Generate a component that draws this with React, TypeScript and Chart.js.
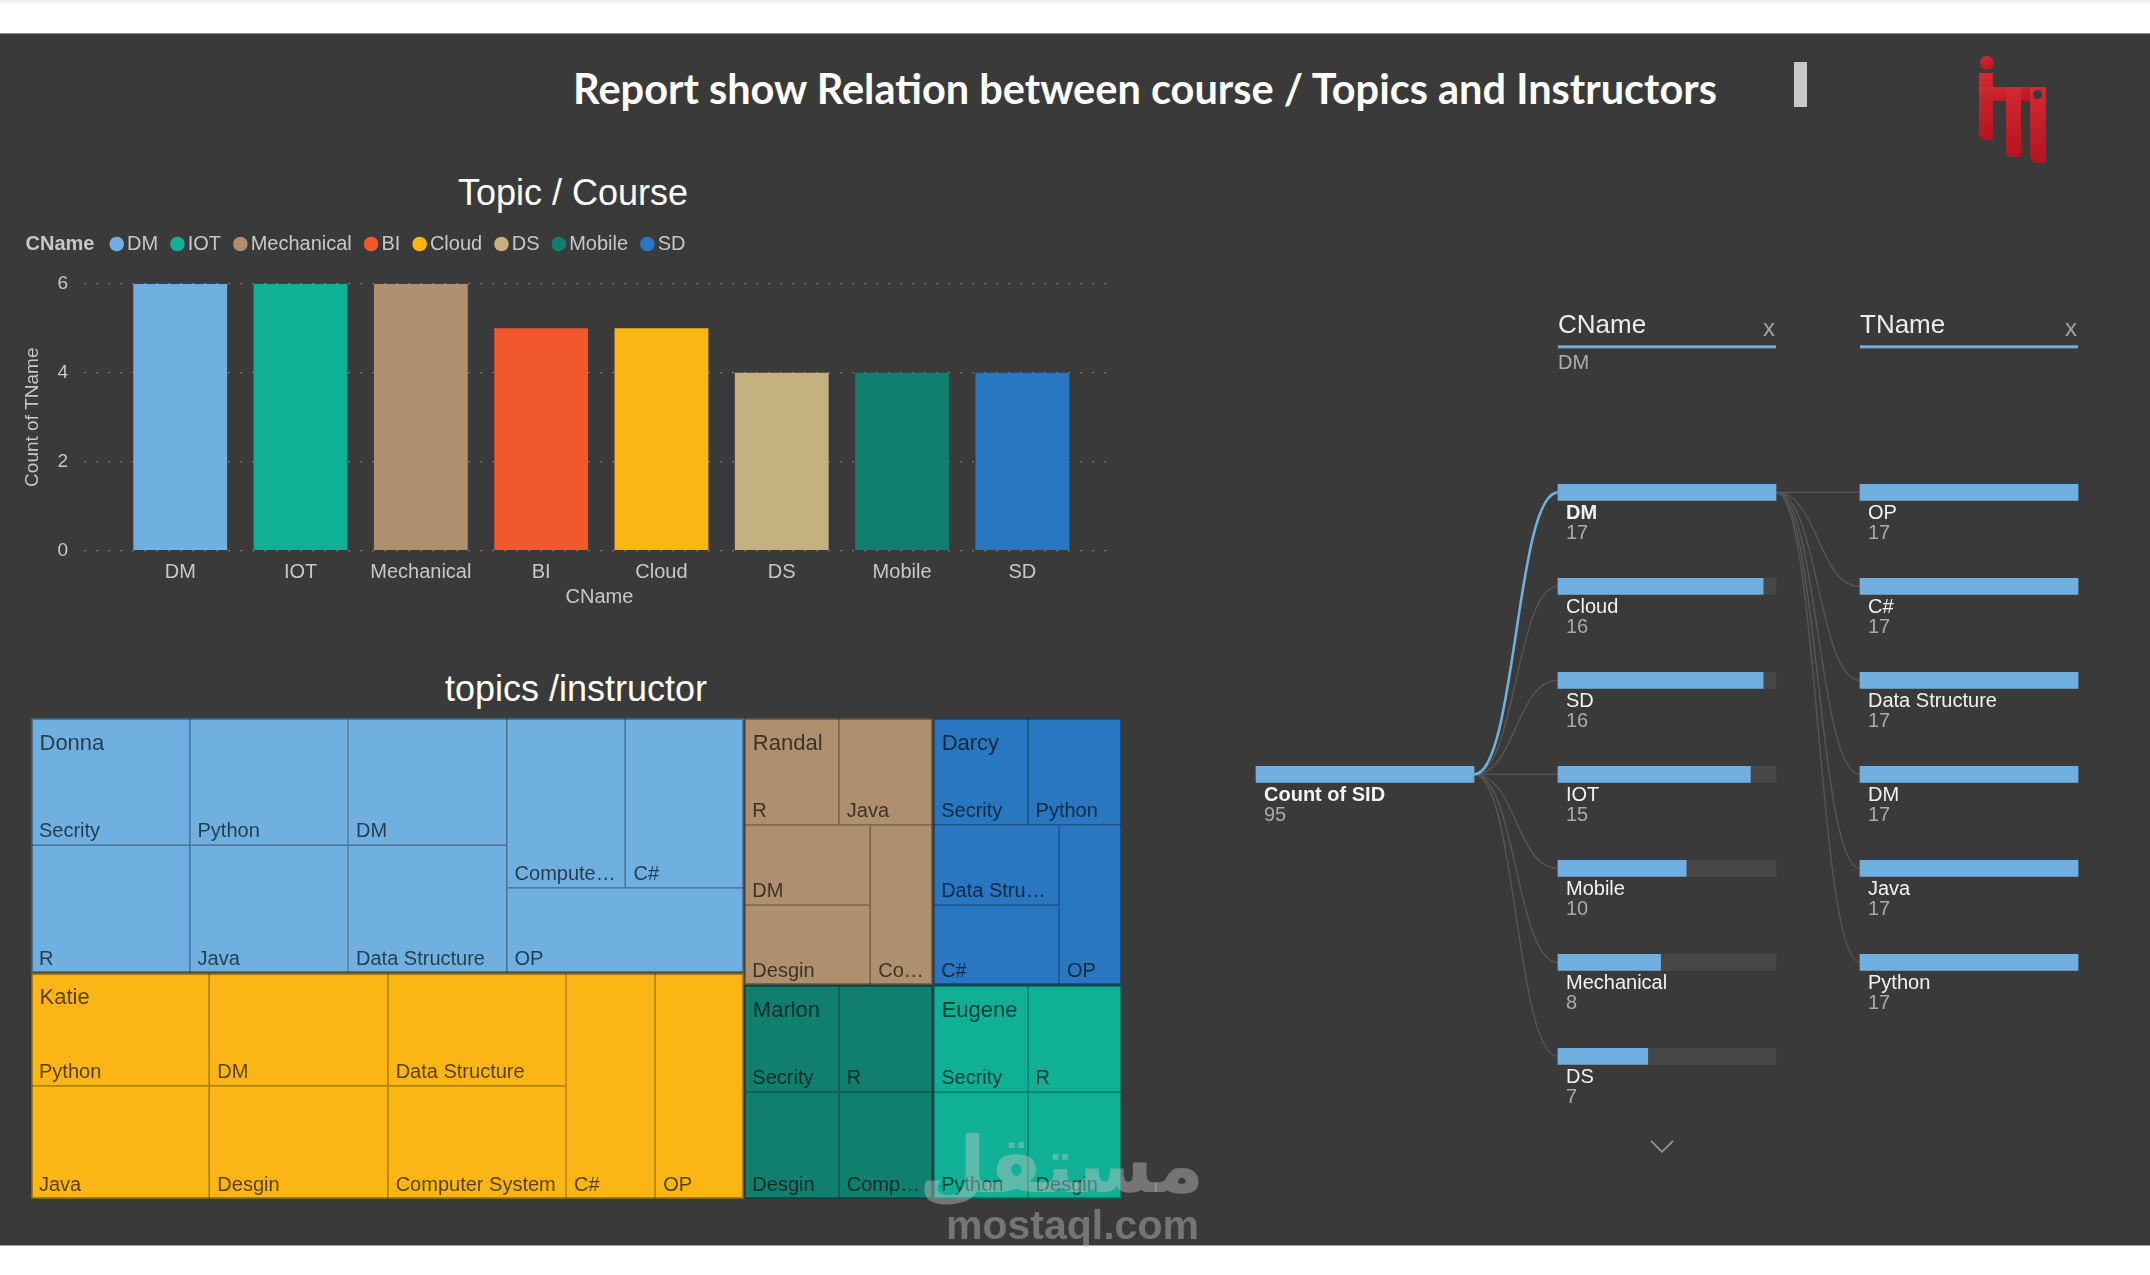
import React, { useEffect, useRef } from "react";
import { Chart, registerables } from "chart.js";

Chart.register(...registerables);

const FONT = '"Liberation Sans", Arial, sans-serif';
Chart.defaults.font.family = FONT;

// ---------------- data ----------------
// Bar chart: Topic / Course
const courseNames = ["DM", "IOT", "Mechanical", "BI", "Cloud", "DS", "Mobile", "SD"];
const topicCountByCourse = [6, 6, 6, 5, 5, 4, 4, 4];
const yAxisMax = 6;
const yAxisStep = 2;
const legendTitle = "CName";
const xAxisTitle = "CName";
const yAxisTitle = "Count of TName";

// Treemap: topics / instructor
const instructors = ["Donna", "Katie", "Randal", "Darcy", "Marlon", "Eugene"];
const instructorTopics = [
  ["Secrity", "R", "Python", "Java", "DM", "Data Structure", "Computer System", "C#", "OP"],
  ["Python", "Java", "DM", "Desgin", "Data Structure", "Computer System", "C#", "OP"],
  ["R", "Java", "DM", "Desgin", "Computer System"],
  ["Secrity", "Python", "Data Structure", "C#", "OP"],
  ["Secrity", "R", "Desgin", "Computer System"],
  ["Secrity", "R", "Python", "Desgin"],
];
const instructorTopicCounts = [
  [2, 2, 2, 2, 2, 2, 2, 2, 2],
  [2, 2, 2, 2, 2, 2, 2, 2],
  [1, 1, 1, 1, 1],
  [1, 1, 1, 1, 1],
  [1, 1, 1, 1],
  [1, 1, 1, 1],
];

// Decomposition tree
const rootLabel = "Count of SID";
const rootTotal = 95;
const levelFields = ["CName", "TName"];
const cnameLabels = ["DM", "Cloud", "SD", "IOT", "Mobile", "Mechanical", "DS"];
const cnameCounts = [17, 16, 16, 15, 10, 8, 7];
const selectedCName = "DM";
const tnameLabels = ["OP", "C#", "Data Structure", "DM", "Java", "Python"];
const tnameCounts = [17, 17, 17, 17, 17, 17];

// ---------------- styles ----------------
const BG = "#3a3a3a";
const courseColors = ["#6FB0E0", "#10B097", "#AE8F6E", "#F1582B", "#FBB616", "#C5B17F", "#107F6D", "#2A77C1"];
const instructorColors = ["#6FB0E0", "#FBB616", "#AE8F6E", "#2A77C1", "#107F6D", "#10B097"];
const LABEL = "#c8c8c8";
const BLUE = "#6FB0E0";
const TRACK = "#474747";

// ---------------- treemap layout (squarified, golden ratio) ----------------
type Rect = { x0: number; y0: number; x1: number; y1: number };
function squarify(values: number[], rect: Rect): Rect[] {
  const ratio = (1 + Math.sqrt(5)) / 2;
  const out: Rect[] = new Array(values.length);
  let { x0, y0, x1, y1 } = rect;
  let value = values.reduce((a, b) => a + b, 0);
  let i0 = 0;
  let i1 = 0;
  const n = values.length;
  while (i0 < n) {
    const dx = x1 - x0;
    const dy = y1 - y0;
    let sumValue = values[i1++];
    let minValue = sumValue;
    let maxValue = sumValue;
    const alpha = Math.max(dy / dx, dx / dy) / (value * ratio);
    let beta = sumValue * sumValue * alpha;
    let minRatio = Math.max(maxValue / beta, beta / minValue);
    for (; i1 < n; ++i1) {
      const nv = values[i1];
      sumValue += nv;
      if (nv < minValue) minValue = nv;
      if (nv > maxValue) maxValue = nv;
      beta = sumValue * sumValue * alpha;
      const newRatio = Math.max(maxValue / beta, beta / minValue);
      if (newRatio > minRatio) {
        sumValue -= nv;
        break;
      }
      minRatio = newRatio;
    }
    if (dx < dy) {
      const yy = y0 + (dy * sumValue) / value;
      let x = x0;
      const k = dx / sumValue;
      for (let i = i0; i < i1; i++) {
        const w = values[i] * k;
        out[i] = { x0: x, y0, x1: x + w, y1: yy };
        x += w;
      }
      y0 = yy;
    } else {
      const xx = x0 + (dx * sumValue) / value;
      let y = y0;
      const k = dy / sumValue;
      for (let i = i0; i < i1; i++) {
        const h = values[i] * k;
        out[i] = { x0, y0: y, x1: xx, y1: y + h };
        y += h;
      }
      x0 = xx;
    }
    value -= sumValue;
    i0 = i1;
  }
  return out;
}

function fitText(ctx: CanvasRenderingContext2D, text: string, maxW: number) {
  if (ctx.measureText(text).width <= maxW) return text;
  let s = text;
  while (s.length > 0 && ctx.measureText(s.trimEnd() + "…").width > maxW) s = s.slice(0, -1);
  return s.trimEnd() + "…";
}

// ---------------- bar chart ----------------
function BarChart() {
  const ref = useRef<HTMLCanvasElement>(null);
  useEffect(() => {
    const legendPlugin = {
      id: "inlineLegend",
      afterDraw(chart: any) {
        const ctx = chart.ctx as CanvasRenderingContext2D;
        const y = 94;
        let x = 25.5;
        ctx.save();
        ctx.textBaseline = "middle";
        ctx.textAlign = "left";
        ctx.font = `bold 20px ${FONT}`;
        ctx.fillStyle = LABEL;
        ctx.fillText(legendTitle, x, y);
        x += ctx.measureText(legendTitle).width + 15;
        ctx.font = `20px ${FONT}`;
        (chart.data.labels as string[]).forEach((lab, i) => {
          ctx.fillStyle = courseColors[i];
          ctx.beginPath();
          ctx.arc(x + 7.3, y, 7.3, 0, Math.PI * 2);
          ctx.fill();
          x += 14.6 + 3;
          ctx.fillStyle = LABEL;
          ctx.fillText(lab, x, y);
          x += ctx.measureText(lab).width + 12;
        });
        ctx.restore();
      },
    };
    const chart = new Chart(ref.current as HTMLCanvasElement, {
      type: "bar",
      data: {
        labels: courseNames,
        datasets: [
          {
            label: yAxisTitle,
            data: courseNames.map((_, i) => ({ x: i, y: topicCountByCourse[i] })) as any,
            backgroundColor: courseColors,
            borderWidth: 0,
            barPercentage: 0.78,
            categoryPercentage: 1,
          },
        ],
      },
      options: {
        responsive: false,
        animation: false,
        events: [],
        layout: { padding: { top: 133.7, right: 35, left: 0, bottom: 0 } },
        plugins: { legend: { display: false }, tooltip: { enabled: false }, title: { display: false } },
        scales: {
          x: {
            type: "linear",
            offset: false,
            min: -0.8,
            max: courseNames.length - 0.23,
            grid: { display: false, offset: false },
            border: { display: false },
            ticks: {
              stepSize: 1,
              includeBounds: false,
              autoSkip: false,
              maxRotation: 0,
              padding: 2,
              color: LABEL,
              font: { size: 20 },
              callback: (v: any) => (Number.isInteger(v) && courseNames[v] ? courseNames[v] : ""),
            },
            title: { display: true, text: xAxisTitle, color: LABEL, font: { size: 20 }, padding: { top: 0, bottom: 11 } },
            afterFit: (s: any) => {
              s.height = 69.3;
            },
          },
          y: {
            min: 0,
            max: yAxisMax,
            grid: { color: "#777777", drawTicks: false, lineWidth: 1.2 },
            border: { display: false, dash: [2, 10] },
            ticks: { stepSize: yAxisStep, padding: 16, color: LABEL, font: { size: 19 } },
            title: { display: true, text: yAxisTitle, color: LABEL, font: { size: 19 }, padding: { top: 21.6, bottom: 0 } },
            afterFit: (s: any) => {
              s.width = 84;
            },
          },
        },
      } as any,
      plugins: [legendPlugin],
    });
    return () => chart.destroy();
  }, []);
  return (
    <div style={{ position: "absolute", left: 0, top: 150, width: 1150, height: 470 }}>
      <canvas ref={ref} width={1150} height={470} />
    </div>
  );
}

// ---------------- treemap ----------------
const TM_W = 1091;
const TM_H = 481;
function Treemap() {
  const ref = useRef<HTMLCanvasElement>(null);
  useEffect(() => {
    const treemapPlugin = {
      id: "treemapCells",
      afterDatasetsDraw(chart: any) {
        const ctx = chart.ctx as CanvasRenderingContext2D;
        const xs = chart.scales.x;
        const ys = chart.scales.y;
        const toPx = (r: Rect) => ({
          l: xs.getPixelForValue(r.x0),
          r: xs.getPixelForValue(r.x1),
          t: ys.getPixelForValue(r.y0),
          b: ys.getPixelForValue(r.y1),
        });
        const totals = instructorTopicCounts.map((a) => a.reduce((s, v) => s + v, 0));
        const groups = squarify(totals, { x0: xs.min, y0: ys.min, x1: xs.max, y1: ys.max });
        const cellsByGroup = groups.map((g, gi) => squarify(instructorTopicCounts[gi], g));
        ctx.save();
        cellsByGroup.forEach((cells, gi) => {
          cells.forEach((c) => {
            const p = toPx(c);
            ctx.fillStyle = instructorColors[gi];
            ctx.fillRect(p.l, p.t, p.r - p.l, p.b - p.t);
          });
        });
        ctx.strokeStyle = "rgba(0,0,0,0.2)";
        ctx.lineWidth = 1;
        cellsByGroup.forEach((cells) => {
          cells.forEach((c) => {
            const p = toPx(c);
            const l = Math.round(p.l) + 0.5;
            const t = Math.round(p.t) + 0.5;
            const r = Math.round(p.r) - 0.5;
            const b = Math.round(p.b) - 0.5;
            ctx.strokeRect(l, t, r - l, b - t);
          });
        });
        ctx.strokeStyle = "rgba(0,0,0,0.32)";
        ctx.lineWidth = 2;
        groups.forEach((g) => {
          const p = toPx(g);
          ctx.strokeRect(Math.round(p.l) + 1, Math.round(p.t) + 1, Math.round(p.r - p.l) - 2, Math.round(p.b - p.t) - 2);
        });
        ctx.fillStyle = "rgba(0,0,0,0.66)";
        ctx.textBaseline = "alphabetic";
        ctx.textAlign = "left";
        cellsByGroup.forEach((cells, gi) => {
          ctx.font = `20px ${FONT}`;
          cells.forEach((c, ci) => {
            const p = toPx(c);
            const txt = fitText(ctx, instructorTopics[gi][ci], p.r - p.l - 16);
            ctx.fillText(txt, p.l + 8, p.b - 8);
          });
          const gp = toPx(groups[gi]);
          ctx.font = `22px ${FONT}`;
          ctx.fillText(fitText(ctx, instructors[gi], gp.r - gp.l - 16), gp.l + 8.5, gp.t + 31.5);
        });
        ctx.restore();
      },
    };
    const chart = new Chart(ref.current as HTMLCanvasElement, {
      type: "scatter",
      data: { datasets: [{ data: [] }] },
      options: {
        responsive: false,
        animation: false,
        events: [],
        layout: { padding: 0 },
        plugins: { legend: { display: false }, tooltip: { enabled: false } },
        scales: {
          x: { type: "linear", display: false, offset: false, min: 0, max: TM_W },
          y: { type: "linear", display: false, offset: false, min: 0, max: TM_H, reverse: true },
        },
      } as any,
      plugins: [treemapPlugin],
    });
    return () => chart.destroy();
  }, []);
  return (
    <div style={{ position: "absolute", left: 31, top: 718, width: TM_W, height: TM_H }}>
      <canvas ref={ref} width={TM_W} height={TM_H} />
    </div>
  );
}

// ---------------- decomposition tree ----------------
const DW = 880;
const DH = 880;
const COLS = [
  [16, 234],
  [318, 536],
  [620, 838],
];
const ROW0 = 192.4;
const ROW_GAP = 94;

function curve(ctx: CanvasRenderingContext2D, x0: number, y0: number, x1: number, y1: number, color: string, w: number) {
  const mx = (x0 + x1) / 2;
  ctx.beginPath();
  ctx.moveTo(x0, y0);
  ctx.bezierCurveTo(mx, y0, mx, y1, x1, y1);
  ctx.strokeStyle = color;
  ctx.lineWidth = w;
  ctx.stroke();
}

function DecompTree() {
  const ref = useRef<HTMLCanvasElement>(null);
  useEffect(() => {
    const cMax = Math.max(...cnameCounts);
    const tMax = Math.max(...tnameCounts);
    const rootRow = (cnameLabels.length - 1) / 2;
    const selIdx = cnameLabels.indexOf(selectedCName);
    const colScale = (c: number[], vmax: number) => ({
      type: "linear",
      display: false,
      offset: false,
      min: (-c[0] / (c[1] - c[0])) * vmax,
      max: ((DW - c[0]) / (c[1] - c[0])) * vmax,
    });
    const decompPlugin = {
      id: "decomp",
      beforeDatasetsDraw(chart: any) {
        const ctx = chart.ctx as CanvasRenderingContext2D;
        const { x0, x1, x2, y } = chart.scales;
        ctx.save();
        const sx = x0.getPixelForValue(rootTotal);
        const sy = y.getPixelForValue(rootRow);
        const tx = x1.getPixelForValue(0);
        cnameLabels.forEach((_, i) => {
          if (i !== selIdx) curve(ctx, sx, sy, tx, y.getPixelForValue(i), "#575757", 1.4);
        });
        curve(ctx, sx, sy, tx, y.getPixelForValue(selIdx), BLUE, 2.6);
        const px = x1.getPixelForValue(cnameCounts[selIdx]);
        const py = y.getPixelForValue(selIdx);
        const qx = x2.getPixelForValue(0);
        tnameLabels.forEach((_, j) => curve(ctx, px, py, qx, y.getPixelForValue(selIdx + j), "#575757", 1.4));
        ctx.restore();
      },
      afterDatasetsDraw(chart: any) {
        const ctx = chart.ctx as CanvasRenderingContext2D;
        const { x0, x1, x2, y } = chart.scales;
        ctx.save();
        ctx.textAlign = "left";
        ctx.textBaseline = "middle";
        const drawNode = (x: number, cy: number, name: string, val: number, bold: boolean) => {
          ctx.font = `${bold ? "bold " : ""}20px ${FONT}`;
          ctx.fillStyle = "#f2f2f2";
          ctx.fillText(name, x + 8, cy + 21.5);
          ctx.font = `20px ${FONT}`;
          ctx.fillStyle = "#ababab";
          ctx.fillText(String(val), x + 8, cy + 41.5);
        };
        drawNode(x0.getPixelForValue(0), y.getPixelForValue(rootRow), rootLabel, rootTotal, true);
        cnameLabels.forEach((lab, i) =>
          drawNode(x1.getPixelForValue(0), y.getPixelForValue(i), lab, cnameCounts[i], i === selIdx)
        );
        tnameLabels.forEach((lab, j) =>
          drawNode(x2.getPixelForValue(0), y.getPixelForValue(selIdx + j), lab, tnameCounts[j], false)
        );
        const heads = [
          { s: x1, vmax: cMax, sub: selectedCName },
          { s: x2, vmax: tMax, sub: "" },
        ];
        heads.forEach((h, k) => {
          const l = h.s.getPixelForValue(0);
          const r = h.s.getPixelForValue(h.vmax);
          ctx.font = `26px ${FONT}`;
          ctx.fillStyle = "#ececec";
          ctx.textAlign = "left";
          ctx.fillText(levelFields[k], l, 26);
          ctx.fillStyle = BLUE;
          ctx.fillRect(l, 45.3, r - l, 3);
          ctx.font = `24px ${FONT}`;
          ctx.fillStyle = "#a0a0a0";
          ctx.textAlign = "center";
          ctx.fillText("x", r - 7, 29);
          if (h.sub) {
            ctx.textAlign = "left";
            ctx.font = `20px ${FONT}`;
            ctx.fillStyle = "#adadad";
            ctx.fillText(h.sub, l, 63);
          }
        });
        const cx = (x1.getPixelForValue(0) + x1.getPixelForValue(cMax)) / 2 - 5;
        const cy = y.getPixelForValue(cnameLabels.length - 1) + 90;
        ctx.beginPath();
        ctx.moveTo(cx - 11, cy - 5.5);
        ctx.lineTo(cx, cy + 5.5);
        ctx.lineTo(cx + 11, cy - 5.5);
        ctx.strokeStyle = "#9a9a9a";
        ctx.lineWidth = 1.6;
        ctx.stroke();
        ctx.restore();
      },
    };
    const barCommon = { yAxisID: "y", barThickness: 16, grouped: false, borderWidth: 0 };
    const chart = new Chart(ref.current as HTMLCanvasElement, {
      type: "bar",
      data: {
        datasets: [
          { ...barCommon, xAxisID: "x0", order: 1, backgroundColor: BLUE, data: [{ x: rootTotal, y: rootRow }] },
          { ...barCommon, xAxisID: "x0", order: 2, backgroundColor: TRACK, data: [{ x: rootTotal, y: rootRow }] },
          { ...barCommon, xAxisID: "x1", order: 1, backgroundColor: BLUE, data: cnameCounts.map((v, i) => ({ x: v, y: i })) },
          { ...barCommon, xAxisID: "x1", order: 2, backgroundColor: TRACK, data: cnameCounts.map((_, i) => ({ x: cMax, y: i })) },
          { ...barCommon, xAxisID: "x2", order: 1, backgroundColor: BLUE, data: tnameCounts.map((v, j) => ({ x: v, y: selIdx + j })) },
          { ...barCommon, xAxisID: "x2", order: 2, backgroundColor: TRACK, data: tnameCounts.map((_, j) => ({ x: tMax, y: selIdx + j })) },
        ] as any,
      },
      options: {
        indexAxis: "y",
        responsive: false,
        animation: false,
        events: [],
        layout: { padding: 0 },
        plugins: { legend: { display: false }, tooltip: { enabled: false } },
        scales: {
          x0: colScale(COLS[0], rootTotal),
          x1: colScale(COLS[1], cMax),
          x2: colScale(COLS[2], tMax),
          y: {
            type: "linear",
            display: false,
            offset: false,
            grid: { offset: false },
            reverse: true,
            min: -ROW0 / ROW_GAP,
            max: (DH - ROW0) / ROW_GAP,
          },
        },
      } as any,
      plugins: [decompPlugin],
    });
    return () => chart.destroy();
  }, []);
  return (
    <div style={{ position: "absolute", left: 1240, top: 300, width: DW, height: DH }}>
      <canvas ref={ref} width={DW} height={DH} />
    </div>
  );
}

// ---------------- logo ----------------
function Logo() {
  const red = "linear-gradient(160deg, #d42a34, #b3141f)";
  const part = (l: number, t: number, w: number, h: number, extra: any = {}) => (
    <div style={{ position: "absolute", left: l, top: t, width: w, height: h, background: red, ...extra }} />
  );
  return (
    <div style={{ position: "absolute", left: 0, top: 0 }}>
      {part(1980, 56, 14, 14, { borderRadius: "50%" })}
      {part(1979, 73, 14, 67, { borderBottomLeftRadius: 7 })}
      {part(1979, 87, 67, 14)}
      {part(2006, 87, 15, 70, { borderBottomLeftRadius: 6 })}
      {part(2030, 87, 16, 76, { borderBottomLeftRadius: 8 })}
      <div style={{ position: "absolute", left: 2033, top: 90, width: 9, height: 9, borderRadius: "50%", background: "#3a3a3a" }} />
    </div>
  );
}

export default function App() {
  return (
    <div
      style={{
        position: "absolute",
        left: 0,
        top: 0,
        width: 2150,
        height: 1275,
        background: "#ffffff",
        overflow: "hidden",
        fontFamily: FONT,
      }}
    >
      <div style={{ position: "absolute", left: 0, top: 0, width: 2150, height: 3, background: "#f0f0f0" }} />
      <div
        style={{
          position: "absolute",
          left: 0,
          top: 33,
          width: 2150,
          height: 1213,
          background: BG,
          borderTop: "1px solid #8c8c8c",
          borderBottom: "1px solid #a0a0a0",
          boxSizing: "border-box",
        }}
      />
      <div
        style={{
          position: "absolute",
          left: 1145,
          top: 68,
          transform: "translateX(-50%)",
          whiteSpace: "nowrap",
          color: "#ffffff",
          fontFamily: "Lato, sans-serif",
          fontWeight: 700,
          fontSize: 41.5,
          lineHeight: 1,
        }}
      >
        Report show Relation between course / Topics and Instructors
      </div>
      <div style={{ position: "absolute", left: 1794, top: 62, width: 13, height: 45, background: "#c8c8c8" }} />
      <Logo />
      <div
        style={{
          position: "absolute",
          left: 573,
          top: 174.5,
          transform: "translateX(-50%)",
          whiteSpace: "nowrap",
          color: "#ffffff",
          fontSize: 36,
          lineHeight: 1,
        }}
      >
        Topic / Course
      </div>
      <div
        style={{
          position: "absolute",
          left: 576,
          top: 671,
          transform: "translateX(-50%)",
          whiteSpace: "nowrap",
          color: "#ffffff",
          fontSize: 36,
          lineHeight: 1,
        }}
      >
        topics /instructor
      </div>
      <BarChart />
      <Treemap />
      <DecompTree />
      <div
        style={{
          position: "absolute",
          left: 900,
          width: 304,
          top: 1126,
          textAlign: "right",
          direction: "rtl",
          whiteSpace: "nowrap",
          color: "rgba(200,200,200,0.42)",
          fontFamily: '"DejaVu Sans", sans-serif',
          fontWeight: 700,
          fontSize: 78,
          lineHeight: 1,
        }}
      >
        مستقل
      </div>
      <div
        style={{
          position: "absolute",
          left: 946,
          top: 1205,
          whiteSpace: "nowrap",
          color: "rgba(190,190,190,0.45)",
          fontWeight: 700,
          fontSize: 41,
          lineHeight: 1,
        }}
      >
        mostaql.com
      </div>
    </div>
  );
}
